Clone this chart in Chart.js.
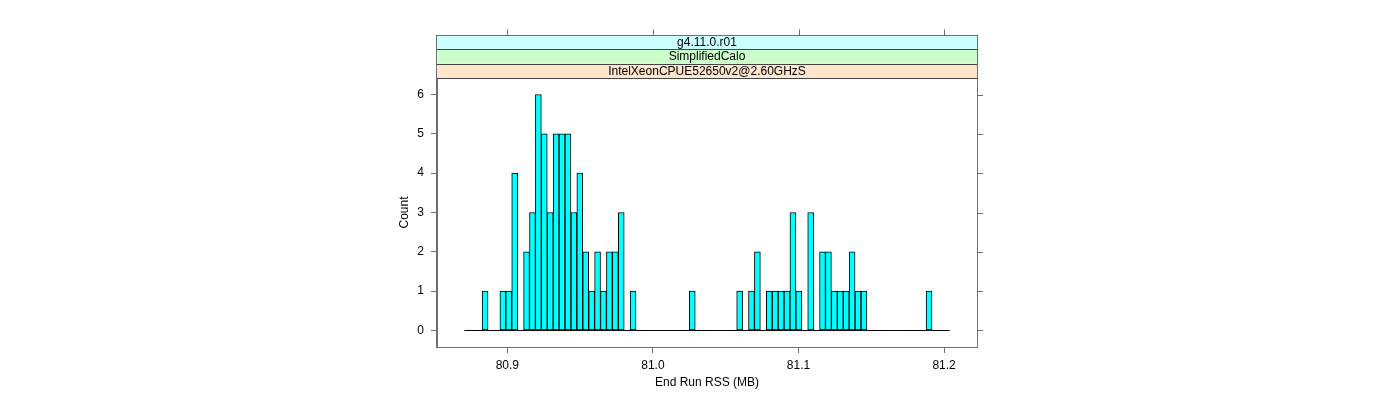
<!DOCTYPE html>
<html>
<head>
<meta charset="utf-8">
<script src="https://cdn.jsdelivr.net/npm/chart.js@4/dist/chart.umd.min.js"></script>
<style>
html,body{margin:0;padding:0;background:#ffffff;}
canvas{display:block;}
</style>
</head>
<body>
<canvas id="c" width="1400" height="400"></canvas>
<script>
// ---- data ----
const stripLabels = ["g4.11.0.r01", "SimplifiedCalo", "IntelXeonCPUE52650v2@2.60GHzS"];
const breakStart = 80.8705;   // first histogram break (MB)
const binWidth = 0.004066;    // histogram bin width (MB)
const binCounts = [
  0, 0, 0, 1, 0, 0, 1, 1, 4, 0,
  2, 3, 6, 5, 3, 5, 5, 5, 3, 4,
  2, 1, 2, 1, 2, 2, 3, 0, 1, 0,
  0, 0, 0, 0, 0, 0, 0, 0, 1, 0,
  0, 0, 0, 0, 0, 0, 1, 0, 1, 2,
  0, 1, 1, 1, 1, 3, 1, 0, 3, 0,
  2, 2, 1, 1, 1, 2, 1, 1, 0, 0,
  0, 0, 0, 0, 0, 0, 0, 0, 1, 0,
  0, 0
];
const xTickValues = [80.9, 81.0, 81.1, 81.2];
const yTickValues = [0, 1, 2, 3, 4, 5, 6];
const xLimits = [80.8517, 81.2226];
const yLimits = [-0.42, 6.42];
const xTitle = "End Run RSS (MB)";
const yTitle = "Count";

// ---- styles ----
const stripFills = ["#CCFFFF", "#CCFFCC", "#FFE5CC"];
const frameColor = "#6e6e6e";
const FONT = '"Liberation Sans", Arial, Helvetica, sans-serif';

// derived histogram marks
const bins = binCounts.map((c, i) => ({ x: breakStart + (i + 0.5) * binWidth, y: c }));
const lastBreak = breakStart + binCounts.length * binWidth;
const baseline = [{ x: breakStart, y: 0 }, { x: lastBreak, y: 0 }];

Chart.defaults.font.family = FONT;
Chart.defaults.font.size = 12;
Chart.defaults.color = "#000";

const latticeFrame = {
  id: 'latticeFrame',
  afterDraw(chart) {
    const { ctx, chartArea: a, scales: { x, y } } = chart;
    const h = 43 / stripLabels.length;
    const n = stripLabels.length;
    ctx.save();
    ctx.lineWidth = 1;
    // strips
    for (let i = 0; i < n; i++) {
      const top = a.top - h * (n - i);
      ctx.fillStyle = stripFills[i];
      ctx.fillRect(a.left, top, a.right - a.left, h);
    }
    ctx.strokeStyle = "#444";
    for (let i = 0; i <= n; i++) {
      const yy = Math.round(a.top - h * (n - i)) + 0.5;
      ctx.beginPath();
      ctx.moveTo(a.left, yy);
      ctx.lineTo(a.right, yy);
      ctx.stroke();
    }
    ctx.fillStyle = "#000";
    ctx.font = '12px ' + FONT;
    ctx.textAlign = 'center';
    ctx.textBaseline = 'middle';
    for (let i = 0; i < n; i++) {
      const top = a.top - h * (n - i);
      ctx.fillText(stripLabels[i], (a.left + a.right) / 2, top + h / 2 + 0.5);
    }
    // frame (panel + strips)
    ctx.strokeStyle = frameColor;
    const stripTop = Math.round(a.top - h * n) + 0.5;
    ctx.strokeRect(Math.round(a.left) - 0.5, stripTop, Math.round(a.right - a.left) + 1, Math.round(a.bottom) - stripTop + 0.5);
    // top ticks
    x.ticks.forEach(t => {
      const px = Math.round(x.getPixelForValue(t.value)) + 0.5;
      ctx.beginPath();
      ctx.moveTo(px, stripTop);
      ctx.lineTo(px, stripTop - 6);
      ctx.stroke();
    });
    // right ticks
    y.ticks.forEach(t => {
      const py = Math.round(y.getPixelForValue(t.value)) + 0.5;
      ctx.beginPath();
      ctx.moveTo(Math.round(a.right) + 0.5, py);
      ctx.lineTo(Math.round(a.right) + 6, py);
      ctx.stroke();
    });
    ctx.restore();
  }
};

new Chart(document.getElementById('c'), {
  type: 'bar',
  data: {
    datasets: [
      {
        type: 'bar',
        data: bins,
        backgroundColor: '#00FFFF',
        borderColor: '#000000',
        borderWidth: 1,
        borderSkipped: false,
        barPercentage: 1.0,
        categoryPercentage: 1.0
      },
      {
        type: 'line',
        data: baseline,
        borderColor: '#000000',
        borderWidth: 1,
        pointRadius: 0,
        fill: false
      }
    ]
  },
  options: {
    responsive: false,
    animation: false,
    devicePixelRatio: 1,
    layout: { padding: { left: 390, top: 78, right: 423, bottom: 0 } },
    plugins: { legend: { display: false }, tooltip: { enabled: false } },
    scales: {
      x: {
        type: 'linear',
        min: xLimits[0],
        max: xLimits[1],
        offset: false,
        afterBuildTicks: s => { s.ticks = xTickValues.map(v => ({ value: v })); },
        afterFit: s => { s.height = 53; },
        grid: { offset: false, drawOnChartArea: false, drawTicks: true, tickLength: 6, color: frameColor },
        border: { display: true, color: frameColor },
        ticks: { padding: 5, autoSkip: false, maxRotation: 0, color: '#000', font: { size: 12 },
                 callback: v => Number(v).toFixed(1) },
        title: { display: true, text: xTitle, color: '#000', font: { size: 12 }, padding: { top: 0, bottom: 10 } }
      },
      y: {
        type: 'linear',
        min: yLimits[0],
        max: yLimits[1],
        afterBuildTicks: s => { s.ticks = yTickValues.map(v => ({ value: v })); },
        afterFit: s => { s.width = 47; },
        grid: { offset: false, drawOnChartArea: false, drawTicks: true, tickLength: 6, color: frameColor },
        border: { display: true, color: frameColor },
        ticks: { padding: 7, color: '#000', font: { size: 12 }, callback: v => String(v) },
        title: { display: true, text: yTitle, color: '#000', font: { size: 12 }, padding: { top: 7, bottom: 0 } }
      }
    }
  },
  plugins: [latticeFrame]
});
</script>
</body>
</html>
